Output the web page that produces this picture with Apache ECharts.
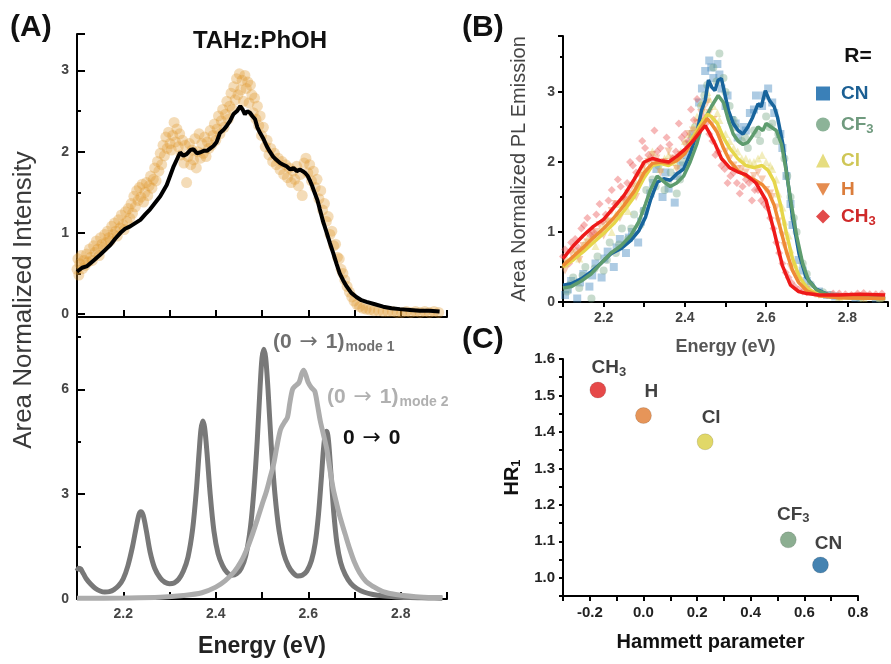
<!DOCTYPE html>
<html>
<head>
<meta charset="utf-8">
<script src="https://cdn.jsdelivr.net/npm/echarts@6/dist/echarts.min.js"></script>
<style>
html, body { margin: 0; padding: 0; background: #fff; }
#chart { width: 891px; height: 664px; }
</style>
</head>
<body>
<div id="chart"></div>
<script>
// ---- panel A (top): TAHz:PhOH measured emission + fit
var phohData = [
  [2.100,0.55],[2.102,0.68],[2.104,0.48],[2.106,0.62],[2.109,0.72],[2.112,0.56],[2.115,0.66],[2.118,0.60],[2.121,0.74],[2.124,0.64],
  [2.127,0.80],[2.130,0.70],[2.133,0.66],[2.136,0.84],[2.139,0.76],[2.142,0.90],[2.145,0.80],[2.148,0.72],[2.151,0.94],[2.154,0.86],
  [2.157,0.82],[2.160,0.98],[2.163,0.88],[2.166,1.02],[2.169,0.94],[2.172,0.90],[2.175,1.08],[2.178,0.98],[2.181,1.12],[2.184,1.02],
  [2.187,0.96],[2.190,1.16],[2.193,1.06],[2.196,1.22],[2.199,1.10],[2.202,1.04],[2.205,1.26],[2.208,1.14],[2.211,1.30],[2.214,1.18],
  [2.217,1.36],[2.220,1.24],[2.223,1.45],[2.226,1.32],[2.229,1.52],[2.232,1.40],[2.235,1.56],[2.238,1.44],[2.241,1.60],[2.244,1.38],
  [2.247,1.50],[2.250,1.62],[2.253,1.46],[2.256,1.58],[2.259,1.70],[2.262,1.55],[2.265,1.66],[2.268,1.80],[2.271,1.64],[2.274,1.88],
  [2.277,1.76],[2.280,1.98],[2.283,1.84],[2.286,2.08],[2.289,1.95],[2.292,2.18],[2.295,2.04],[2.298,2.24],[2.301,2.10],[2.304,2.02],
  [2.307,2.20],[2.310,2.36],[2.313,2.12],[2.316,2.28],[2.319,2.06],[2.322,2.22],[2.325,1.96],[2.328,2.14],[2.331,1.86],[2.334,2.08],
  [2.337,1.62],[2.340,1.94],[2.343,2.10],[2.346,1.84],[2.349,2.02],[2.352,1.90],[2.355,2.16],[2.358,1.80],[2.361,2.00],[2.364,2.22],
  [2.367,1.92],[2.370,2.10],[2.373,1.98],[2.376,2.18],[2.379,1.94],[2.382,2.12],[2.385,2.04],[2.388,2.26],[2.391,2.08],[2.394,2.20],
  [2.397,2.34],[2.400,2.14],[2.403,2.28],[2.406,2.44],[2.409,2.22],[2.412,2.38],[2.415,2.52],[2.418,2.30],[2.421,2.46],[2.424,2.62],
  [2.427,2.40],[2.430,2.56],[2.433,2.72],[2.436,2.52],[2.439,2.80],[2.442,2.64],[2.445,2.90],[2.448,2.70],[2.451,2.96],[2.454,2.76],
  [2.457,2.88],[2.460,2.62],[2.463,2.94],[2.466,2.78],[2.469,2.86],[2.472,2.60],[2.475,2.82],[2.478,2.70],[2.481,2.48],[2.484,2.66],
  [2.487,2.40],[2.490,2.56],[2.493,2.32],[2.496,2.44],[2.499,2.20],[2.503,2.30],[2.507,2.06],[2.511,2.14],[2.515,1.96],[2.519,2.04],
  [2.523,1.88],[2.527,1.98],[2.531,1.84],[2.535,1.92],[2.539,1.78],[2.543,1.88],[2.547,1.72],[2.551,1.84],[2.555,1.68],[2.559,1.80],
  [2.563,1.62],[2.567,1.76],[2.571,1.66],[2.575,1.82],[2.579,1.58],[2.583,1.72],[2.587,1.46],[2.591,1.86],[2.595,1.92],[2.599,1.74],
  [2.603,1.84],[2.607,1.64],[2.611,1.76],[2.615,1.56],[2.619,1.66],[2.623,1.42],[2.627,1.52],[2.631,1.28],[2.635,1.36],[2.639,1.14],
  [2.643,1.20],[2.647,0.98],[2.651,1.02],[2.655,0.84],[2.659,0.86],[2.663,0.70],[2.667,0.68],[2.671,0.55],[2.675,0.50],[2.679,0.42],
  [2.684,0.34],[2.689,0.27],[2.694,0.21],[2.699,0.16],[2.705,0.12],[2.711,0.09],[2.718,0.07],[2.725,0.06],[2.733,0.05],[2.742,0.04],
  [2.752,0.04],[2.762,0.03],[2.772,0.03],[2.782,0.03],[2.792,0.02],[2.802,0.02],[2.812,0.03],[2.822,0.02],[2.832,0.03],[2.842,0.02],
  [2.852,0.03],[2.862,0.02],[2.872,0.03],[2.882,0.02]
];
var phohFit = [
  [2.100,0.52],[2.111,0.57],[2.122,0.59],[2.136,0.66],[2.150,0.73],[2.161,0.79],[2.172,0.85],[2.183,0.93],[2.194,1.00],[2.204,1.05],
  [2.215,1.08],[2.226,1.12],[2.237,1.16],[2.248,1.23],[2.258,1.29],[2.269,1.37],[2.280,1.45],[2.294,1.59],[2.309,1.82],[2.323,1.99],
  [2.330,1.95],[2.337,1.97],[2.345,2.02],[2.352,2.03],[2.359,1.98],[2.366,1.99],[2.374,2.01],[2.381,2.01],[2.388,2.04],[2.395,2.07],
  [2.402,2.12],[2.409,2.23],[2.417,2.27],[2.424,2.32],[2.431,2.38],[2.438,2.46],[2.446,2.50],[2.453,2.56],[2.458,2.52],[2.463,2.46],
  [2.468,2.50],[2.474,2.48],[2.479,2.44],[2.485,2.40],[2.490,2.30],[2.496,2.23],[2.503,2.16],[2.510,2.07],[2.517,2.00],[2.524,1.94],
  [2.531,1.90],[2.539,1.86],[2.546,1.84],[2.553,1.82],[2.561,1.78],[2.568,1.80],[2.575,1.76],[2.582,1.78],[2.588,1.76],[2.593,1.74],
  [2.599,1.70],[2.604,1.64],[2.609,1.57],[2.614,1.49],[2.620,1.40],[2.625,1.29],[2.632,1.14],[2.640,1.00],[2.647,0.87],[2.654,0.75],
  [2.661,0.62],[2.668,0.50],[2.675,0.42],[2.683,0.34],[2.693,0.26],[2.704,0.21],[2.715,0.17],[2.726,0.15],[2.744,0.12],[2.762,0.09],
  [2.780,0.07],[2.798,0.06],[2.820,0.05],[2.841,0.04],[2.862,0.04],[2.884,0.03]
];

// ---- panel A (bottom): vibronic progressions
var progressionMode1 = [
  [2.100,0.80],[2.104,0.88],[2.108,0.86],[2.114,0.72],[2.120,0.58],[2.130,0.42],[2.140,0.30],[2.150,0.23],[2.160,0.20],[2.170,0.21],
  [2.180,0.27],[2.190,0.38],[2.200,0.58],[2.210,0.95],[2.220,1.50],[2.228,2.05],[2.234,2.42],[2.238,2.50],[2.243,2.40],[2.250,1.95],
  [2.258,1.35],[2.268,0.88],[2.280,0.60],[2.290,0.48],[2.300,0.44],[2.310,0.46],[2.320,0.57],[2.330,0.80],[2.340,1.20],[2.350,2.00],
  [2.358,3.10],[2.364,4.20],[2.368,4.85],[2.372,5.10],[2.376,4.90],[2.381,4.20],[2.388,3.00],[2.396,1.95],[2.405,1.30],[2.415,0.95],
  [2.425,0.75],[2.435,0.68],[2.445,0.72],[2.455,0.88],[2.465,1.25],[2.475,2.05],[2.483,3.20],[2.490,4.60],[2.496,6.10],[2.500,6.90],
  [2.504,7.15],[2.508,6.90],[2.513,6.00],[2.520,4.40],[2.528,3.00],[2.537,1.95],[2.547,1.30],[2.557,0.95],[2.567,0.75],[2.577,0.66],
  [2.587,0.68],[2.597,0.80],[2.607,1.10],[2.615,1.60],[2.622,2.40],[2.628,3.40],[2.633,4.30],[2.637,4.75],[2.640,4.80],[2.644,4.50],
  [2.649,3.60],[2.655,2.50],[2.662,1.60],[2.670,1.05],[2.680,0.70],[2.692,0.45],[2.705,0.30],[2.720,0.20],[2.740,0.13],[2.760,0.09],
  [2.790,0.06],[2.820,0.04],[2.860,0.03],[2.890,0.02]
];
var progressionMode2 = [
  [2.100,0.02],[2.200,0.03],[2.280,0.05],[2.330,0.10],[2.370,0.18],[2.400,0.34],[2.420,0.52],[2.440,0.78],[2.455,1.08],[2.468,1.45],
  [2.480,1.88],[2.490,2.28],[2.500,2.70],[2.510,3.10],[2.518,3.50],[2.525,3.85],[2.532,4.35],[2.540,4.85],[2.548,5.05],[2.555,5.20],
  [2.560,5.60],[2.566,6.00],[2.572,6.10],[2.580,6.20],[2.586,6.45],[2.590,6.55],[2.595,6.40],[2.600,6.20],[2.607,6.05],[2.614,5.95],
  [2.620,5.55],[2.626,5.10],[2.633,4.70],[2.640,4.30],[2.647,3.70],[2.654,3.15],[2.661,2.75],[2.668,2.38],[2.680,1.85],[2.690,1.42],
  [2.700,1.05],[2.711,0.75],[2.725,0.50],[2.740,0.36],[2.760,0.22],[2.780,0.15],[2.800,0.11],[2.840,0.06],[2.890,0.04]
];

// ---- panel B: PL emission for R = CN, CF3, Cl, H, CH3
var substituentsB = ['CN', 'CF3', 'Cl', 'H', 'CH3'];
var fitCN = [
  [2.100,0.24],[2.120,0.26],[2.145,0.33],[2.169,0.43],[2.193,0.55],[2.218,0.69],[2.242,0.76],[2.267,0.88],[2.287,1.02],[2.303,1.21],
  [2.315,1.45],[2.332,1.71],[2.348,1.76],[2.364,1.74],[2.380,1.83],[2.397,1.90],[2.413,2.12],[2.429,2.40],[2.441,2.74],[2.450,2.88],
  [2.458,3.17],[2.466,3.07],[2.474,3.02],[2.482,3.17],[2.490,3.19],[2.498,2.98],[2.507,2.74],[2.519,2.55],[2.531,2.45],[2.543,2.40],
  [2.555,2.50],[2.567,2.64],[2.580,2.83],[2.588,2.79],[2.598,3.02],[2.608,2.88],[2.620,2.79],[2.628,2.64],[2.641,2.26],[2.653,1.74],
  [2.665,1.21],[2.681,0.69],[2.698,0.36],[2.722,0.19],[2.754,0.10],[2.803,0.06],[2.893,0.05]
];
var fitCF3 = [
  [2.100,0.20],[2.120,0.22],[2.145,0.30],[2.169,0.40],[2.193,0.55],[2.218,0.70],[2.242,0.80],[2.267,0.95],[2.287,1.15],[2.303,1.40],
  [2.315,1.60],[2.332,1.80],[2.348,1.72],[2.364,1.65],[2.380,1.70],[2.397,1.80],[2.413,2.00],[2.429,2.25],[2.441,2.50],[2.450,2.62],
  [2.466,2.80],[2.482,2.95],[2.495,2.85],[2.507,2.60],[2.519,2.40],[2.531,2.30],[2.543,2.25],[2.555,2.28],[2.567,2.38],[2.580,2.50],
  [2.592,2.45],[2.600,2.55],[2.612,2.50],[2.625,2.45],[2.638,2.25],[2.650,1.85],[2.662,1.40],[2.675,0.95],[2.690,0.55],[2.705,0.30],
  [2.725,0.17],[2.755,0.10],[2.800,0.07],[2.893,0.05]
];
var fitCl = [
  [2.100,0.50],[2.125,0.60],[2.150,0.72],[2.175,0.85],[2.200,0.98],[2.225,1.12],[2.250,1.30],[2.275,1.50],[2.300,1.78],[2.320,1.95],
  [2.340,1.98],[2.360,1.95],[2.380,2.02],[2.400,2.15],[2.420,2.35],[2.440,2.55],[2.455,2.68],[2.465,2.65],[2.480,2.55],[2.495,2.35],
  [2.510,2.20],[2.530,2.05],[2.550,1.95],[2.570,1.92],[2.590,1.95],[2.605,1.88],[2.620,1.72],[2.635,1.40],[2.650,0.98],[2.665,0.62],
  [2.680,0.38],[2.700,0.20],[2.730,0.10],[2.780,0.06],[2.893,0.05]
];
var fitH = [
  [2.100,0.52],[2.125,0.65],[2.150,0.78],[2.175,0.92],[2.200,1.05],[2.225,1.20],[2.250,1.38],[2.275,1.58],[2.300,1.85],[2.320,1.98],
  [2.340,2.00],[2.360,1.98],[2.380,2.02],[2.400,2.12],[2.420,2.32],[2.440,2.50],[2.455,2.62],[2.465,2.55],[2.480,2.42],[2.495,2.20],
  [2.510,2.02],[2.530,1.88],[2.550,1.80],[2.570,1.75],[2.590,1.68],[2.605,1.58],[2.620,1.38],[2.635,1.05],[2.650,0.72],[2.665,0.45],
  [2.680,0.28],[2.700,0.16],[2.730,0.09],[2.780,0.06],[2.893,0.05]
];
var fitCH3 = [
  [2.100,0.62],[2.125,0.80],[2.150,0.95],[2.175,1.08],[2.200,1.18],[2.225,1.35],[2.250,1.52],[2.275,1.75],[2.300,2.00],[2.320,2.05],
  [2.340,2.02],[2.360,2.00],[2.380,2.08],[2.400,2.18],[2.420,2.30],[2.440,2.45],[2.450,2.52],[2.460,2.42],[2.475,2.25],[2.490,2.05],
  [2.510,1.92],[2.530,1.86],[2.550,1.82],[2.575,1.70],[2.600,1.45],[2.620,1.00],[2.640,0.52],[2.660,0.24],[2.680,0.15],[2.700,0.12],
  [2.730,0.10],[2.780,0.10],[2.830,0.11],[2.893,0.10]
];
var dataCN = [
  [2.105,0.10],[2.120,0.30],[2.135,0.05],[2.150,0.40],[2.165,0.22],[2.180,0.55],[2.195,0.35],[2.210,0.72],[2.225,0.50],[2.240,0.90],
  [2.255,0.70],[2.270,1.00],[2.285,0.85],[2.300,1.30],[2.315,1.55],[2.330,1.90],[2.345,1.50],[2.360,1.62],[2.375,1.42],[2.390,1.95],
  [2.405,2.10],[2.420,2.40],[2.435,2.85],[2.450,3.30],[2.460,3.45],[2.470,3.20],[2.480,3.40],[2.490,3.05],[2.500,2.80],[2.515,2.60],
  [2.530,2.35],[2.545,2.50],[2.560,2.70],[2.575,2.95],[2.590,2.80],[2.605,3.05],[2.620,2.70],[2.635,2.40],[2.650,1.80],[2.665,1.10],
  [2.680,0.60],[2.700,0.30],[2.730,0.15],[2.770,0.08],[2.820,0.06],[2.870,0.05],
  [2.112,0.18],[2.142,0.28],[2.172,0.38],[2.202,0.62],[2.232,0.78],[2.262,0.92],[2.292,1.15],[2.322,1.70],[2.352,1.85],[2.382,1.80],
  [2.412,2.25],[2.442,3.05],[2.465,3.35],[2.485,3.25],[2.505,2.95],[2.525,2.55],[2.550,2.45],[2.570,2.75],[2.595,2.95],[2.615,2.85],
  [2.640,2.20],[2.660,1.40],[2.690,0.45],[2.750,0.10]
];
var dataCF3 = [
  [2.110,0.15],[2.125,0.35],[2.140,0.20],[2.155,0.50],[2.170,0.05],[2.185,0.65],[2.200,0.45],[2.215,0.85],[2.230,0.70],[2.245,1.05],
  [2.260,0.90],[2.275,1.25],[2.290,1.10],[2.305,1.60],[2.320,1.75],[2.335,1.95],[2.350,1.60],[2.365,1.85],[2.380,1.55],[2.395,2.00],
  [2.410,2.20],[2.425,2.50],[2.440,2.80],[2.455,3.10],[2.470,3.35],[2.485,3.55],[2.495,3.20],[2.510,2.80],[2.525,2.50],[2.540,2.30],
  [2.555,2.20],[2.570,2.45],[2.585,2.30],[2.600,2.65],[2.615,2.55],[2.630,2.40],[2.645,2.05],[2.660,1.50],[2.675,1.00],[2.690,0.55],
  [2.710,0.25],[2.740,0.14],[2.780,0.08],[2.830,0.06],[2.880,0.05],
  [2.118,0.25],[2.148,0.38],[2.178,0.48],[2.208,0.60],[2.238,0.82],[2.268,1.05],[2.298,1.30],[2.328,1.65],[2.358,1.70],[2.388,1.75],
  [2.418,2.35],[2.448,2.95],[2.478,3.15],[2.500,3.00],[2.520,2.60],[2.548,2.35],[2.578,2.40],[2.608,2.50],[2.625,2.30],[2.652,1.80],
  [2.668,1.20],[2.700,0.40],[2.760,0.10]
];
var dataCl = [
  [2.105,0.55],[2.120,0.75],[2.140,0.62],[2.160,0.90],[2.180,0.80],[2.200,1.10],[2.220,1.00],[2.240,1.40],[2.260,1.30],[2.280,1.70],
  [2.300,1.90],[2.320,2.15],[2.340,1.90],[2.360,2.10],[2.380,1.95],[2.400,2.30],[2.420,2.50],[2.440,2.85],[2.455,3.00],[2.470,2.80],
  [2.485,2.60],[2.500,2.40],[2.520,2.20],[2.540,2.05],[2.560,2.00],[2.580,2.05],[2.600,2.00],[2.615,1.90],[2.630,1.55],[2.645,1.15],
  [2.660,0.75],[2.680,0.40],[2.700,0.22],[2.730,0.12],[2.780,0.07],[2.840,0.06],[2.880,0.06],
  [2.110,0.60],[2.130,0.68],[2.150,0.82],[2.170,0.92],[2.190,1.00],[2.210,1.18],[2.230,1.25],[2.250,1.45],[2.270,1.55],[2.290,1.85],
  [2.310,2.05],[2.330,2.00],[2.350,2.05],[2.370,2.00],[2.390,2.15],[2.410,2.40],[2.430,2.65],[2.445,2.75],[2.460,2.90],[2.480,2.70],
  [2.510,2.30],[2.530,2.15],[2.550,2.05],[2.570,2.00],[2.590,2.10],[2.610,1.95],[2.625,1.75],[2.640,1.35],[2.655,0.95],[2.670,0.55]
];
var dataH = [
  [2.105,0.45],[2.120,0.70],[2.140,0.60],[2.160,0.85],[2.180,1.00],[2.200,0.95],[2.220,1.30],[2.240,1.20],[2.260,1.55],[2.280,1.50],
  [2.300,1.95],[2.320,2.10],[2.340,1.85],[2.360,2.15],[2.380,1.90],[2.400,2.25],[2.420,2.45],[2.440,2.70],[2.455,2.85],[2.470,2.60],
  [2.485,2.35],[2.500,2.15],[2.520,1.95],[2.540,1.90],[2.560,1.75],[2.580,1.85],[2.600,1.60],[2.615,1.50],[2.630,1.15],[2.645,0.80],
  [2.660,0.50],[2.680,0.30],[2.700,0.18],[2.730,0.10],[2.780,0.07],[2.840,0.06],[2.880,0.06],
  [2.110,0.55],[2.130,0.72],[2.150,0.80],[2.170,0.95],[2.190,1.10],[2.210,1.15],[2.230,1.40],[2.250,1.45],[2.270,1.65],[2.290,1.80],
  [2.310,2.00],[2.330,2.05],[2.350,2.00],[2.370,2.05],[2.390,2.10],[2.410,2.40],[2.430,2.55],[2.445,2.75],[2.460,2.70],[2.480,2.45],
  [2.510,2.05],[2.530,1.90],[2.550,1.85],[2.570,1.80],[2.590,1.75],[2.610,1.55],[2.625,1.35],[2.640,0.95],[2.655,0.65],[2.670,0.40]
];
var dataCH3 = [
  [2.105,0.75],[2.115,0.55],[2.130,0.90],[2.145,1.05],[2.160,1.20],[2.175,1.00],[2.190,1.40],[2.205,1.25],[2.220,1.60],[2.235,1.75],
  [2.250,1.50],[2.265,2.00],[2.280,1.85],[2.295,2.30],[2.310,2.10],[2.325,2.45],[2.340,2.20],[2.355,2.35],[2.370,2.05],[2.385,2.55],
  [2.400,2.40],[2.415,2.75],[2.430,2.90],[2.445,2.65],[2.460,2.40],[2.475,2.10],[2.490,1.95],[2.505,1.70],[2.520,1.85],[2.535,1.55],
  [2.550,1.75],[2.565,1.45],[2.580,1.60],[2.595,1.40],[2.610,1.20],[2.625,0.85],[2.640,0.55],[2.655,0.35],[2.670,0.22],[2.690,0.15],
  [2.720,0.12],[2.750,0.10],[2.780,0.12],[2.810,0.10],[2.840,0.13],[2.870,0.11],
  [2.100,0.65],[2.120,0.85],[2.138,0.78],[2.152,1.10],[2.168,0.95],[2.182,1.25],[2.198,1.15],[2.212,1.45],[2.228,1.40],[2.242,1.65],
  [2.258,1.70],[2.272,1.95],[2.288,2.05],[2.302,2.20],[2.318,2.05],[2.332,2.15],[2.348,2.00],[2.362,2.25],[2.378,2.15],[2.392,2.35],
  [2.408,2.30],[2.422,2.60],[2.438,2.60],[2.452,2.55],[2.468,2.30],[2.482,2.15],[2.498,1.90],[2.512,1.80],[2.528,1.70],[2.542,1.65],
  [2.558,1.70],[2.572,1.60],[2.588,1.45],[2.602,1.35],[2.618,1.05],[2.632,0.70],[2.648,0.42],[2.662,0.28],[2.680,0.18],[2.700,0.14],
  [2.735,0.11],[2.765,0.12],[2.795,0.11],[2.825,0.12],[2.855,0.11],[2.885,0.12]
];
var measuredB = [dataCN, dataCF3, dataCl, dataH, dataCH3];
var fitsB = [fitCN, fitCF3, fitCl, fitH, fitCH3];

// ---- panel C: Huang-Rhys factor vs Hammett parameter
var substituentsC = ['CH3', 'H', 'Cl', 'CF3', 'CN'];
var hammett = [-0.17, 0.00, 0.23, 0.54, 0.66];
var hr1 = [1.515, 1.445, 1.373, 1.104, 1.035];

// ---- styling
var FONT = 'Liberation Sans, Arial, sans-serif';
var lineColorsB = ['#17649c', '#5e9c6e', '#e6d64a', '#ef8a35', '#ee1a1a'];
var markColorsB = ['rgba(50,125,185,0.5)', 'rgba(115,165,130,0.5)', 'rgba(225,215,105,0.55)', 'rgba(235,140,85,0.55)', 'rgba(232,75,75,0.5)'];
var legendIconColors = ['#3a80b8', '#8cb398', '#e6dd80', '#e58c50', '#e24a4a'];
var legendTextColors = ['#1b5f93', '#6f9a7e', '#cfc656', '#db7d3b', '#cf2a2a'];
var symbolsB = ['rect', 'circle', 'triangle', 'path://M0,0L10,0L5,9Z', 'diamond'];
var legendTops = [79, 110, 146, 175, 202];
var colorsC = ['#e01c1c', '#e07a30', '#d9ce42', '#6f9a76', '#17649e'];
var labelOffsetsC = [[11, 0], [8, -3], [6, -3], [5, -3], [8, 0]];

function subFmt(name) {
  var m = name.match(/^(.*?)(\d)$/);
  return m ? '{m|' + m[1] + '}{s|' + m[2] + '}' : '{m|' + name + '}';
}
function evenTenths(v) {
  var t = Math.round(v * 10);
  return t % 2 === 0 ? (t / 10).toFixed(1) : '';
}
function intOnly(v) {
  return Math.abs(v - Math.round(v)) < 1e-6 ? String(Math.round(v)) : '';
}
function multipleOf3(v) {
  var r = Math.round(v);
  return Math.abs(v - r) < 1e-6 && r % 3 === 0 ? String(r) : '';
}

var axisLine = { onZero: false, lineStyle: { color: '#000', width: 2 } };
var tickLabel = { fontFamily: FONT, fontSize: 14, fontWeight: 'bold', color: '#444' };
var arrowFont = 'DejaVu Sans';

var chart = echarts.init(document.getElementById('chart'));

var series = [
  { type: 'scatter', xAxisIndex: 0, yAxisIndex: 0, data: phohData, symbolSize: 11,
    itemStyle: { color: 'rgba(222,150,45,0.42)' }, z: 2 },
  { type: 'line', xAxisIndex: 0, yAxisIndex: 0, data: phohFit, showSymbol: false,
    lineStyle: { color: '#000', width: 4 }, z: 3 },
  { type: 'line', xAxisIndex: 1, yAxisIndex: 1, data: progressionMode1, showSymbol: false, smooth: 0.3,
    lineStyle: { color: '#787878', width: 5 }, z: 2 },
  { type: 'line', xAxisIndex: 1, yAxisIndex: 1, data: progressionMode2, showSymbol: false, smooth: 0.3,
    lineStyle: { color: '#acacac', width: 5 }, z: 3 }
];
substituentsB.forEach(function (name, i) {
  series.push({ type: 'scatter', name: name, xAxisIndex: 2, yAxisIndex: 2, data: measuredB[i],
    symbol: symbolsB[i], symbolSize: 8, itemStyle: { color: markColorsB[i] }, z: 2 });
});
substituentsB.forEach(function (name, i) {
  series.push({ type: 'line', name: name + ' fit', xAxisIndex: 2, yAxisIndex: 2, data: fitsB[i],
    showSymbol: false, lineStyle: { color: lineColorsB[i], width: 3.5 }, z: 3 + i });
});
series.push({
  type: 'scatter', xAxisIndex: 3, yAxisIndex: 3, symbolSize: 16,
  data: substituentsC.map(function (name, i) {
    return { name: name, value: [hammett[i], hr1[i]],
      itemStyle: { color: colorsC[i], borderColor: 'rgba(0,0,0,0.15)', borderWidth: 1 },
      label: { offset: labelOffsetsC[i] } };
  }),
  label: {
    show: true, position: 'top', distance: 3,
    formatter: function (p) { return subFmt(p.name); },
    rich: {
      m: { fontFamily: FONT, fontSize: 19, fontWeight: 'bold', color: '#111' },
      s: { fontFamily: FONT, fontSize: 13, fontWeight: 'bold', color: '#111', padding: [9, 0, 0, 0] }
    }
  }
});

var legends = substituentsB.map(function (name, i) {
  return {
    data: [{ name: name, icon: symbolsB[i], itemStyle: { color: legendIconColors[i], opacity: 1 } }],
    left: 811, top: legendTops[i], itemWidth: 14, itemHeight: 14, selectedMode: false,
    formatter: subFmt,
    textStyle: {
      color: legendTextColors[i],
      rich: {
        m: { fontFamily: FONT, fontSize: 19, fontWeight: 'bold', color: legendTextColors[i], padding: [0, 0, 0, 6] },
        s: { fontFamily: FONT, fontSize: 13, fontWeight: 'bold', color: legendTextColors[i], padding: [9, 0, 0, 0] }
      }
    }
  };
});

function transitionText(x, y, text, color) {
  return { type: 'text', x: x, y: y, style: {
    text: text, textVerticalAlign: 'middle',
    rich: {
      a: { fontFamily: FONT, fontSize: 21, fontWeight: 'bold', fill: color },
      r: { fontFamily: arrowFont, fontSize: 22, fill: color, padding: [0, 2, 0, 2] },
      s: { fontFamily: FONT, fontSize: 14, fontWeight: 'bold', fill: color, padding: [10, 0, 0, 1] }
    } } };
}

var option = {
  animation: false,
  backgroundColor: '#fff',
  grid: [
    { left: 77, top: 34, width: 370, height: 280 },
    { left: 77, top: 314, width: 370, height: 285 },
    { left: 563, top: 36, width: 330, height: 266 },
    { left: 563, top: 359, width: 295, height: 237 }
  ],
  legend: legends,
  xAxis: [
    { gridIndex: 0, type: 'value', min: 2.1, max: 2.9, interval: 0.1, offset: 3,
      axisLine: axisLine, axisTick: { inside: true, length: 7, lineStyle: { color: '#000', width: 2 } },
      axisLabel: { show: false }, splitLine: { show: false } },
    { gridIndex: 1, type: 'value', min: 2.1, max: 2.9, interval: 0.1,
      axisLine: axisLine, axisTick: { inside: true, length: 7, lineStyle: { color: '#000', width: 2 } },
      axisLabel: Object.assign({ formatter: evenTenths, margin: 8 }, tickLabel), splitLine: { show: false },
      name: 'Energy (eV)', nameLocation: 'middle', nameGap: 36,
      nameTextStyle: { fontFamily: FONT, fontSize: 23, fontWeight: 'bold', color: '#222' } },
    { gridIndex: 2, type: 'value', min: 2.1, max: 2.9, interval: 0.1,
      axisLine: axisLine, axisTick: { length: 5, lineStyle: { color: '#000', width: 2 } },
      axisLabel: Object.assign({ formatter: evenTenths, margin: 9 }, tickLabel), splitLine: { show: false },
      name: 'Energy (eV)', nameLocation: 'middle', nameGap: 36,
      nameTextStyle: { fontFamily: FONT, fontSize: 18, fontWeight: 'bold', color: '#555' } },
    { gridIndex: 3, type: 'value', min: -0.3, max: 0.8, interval: 0.1,
      axisLine: axisLine, axisTick: { length: 5, lineStyle: { color: '#000', width: 2 } },
      axisLabel: { formatter: evenTenths, margin: 9, fontFamily: FONT, fontSize: 15, fontWeight: 'bold', color: '#222' },
      splitLine: { show: false },
      name: 'Hammett parameter', nameLocation: 'middle', nameGap: 36,
      nameTextStyle: { fontFamily: FONT, fontSize: 20, fontWeight: 'bold', color: '#111' } }
  ],
  yAxis: [
    { gridIndex: 0, type: 'value', min: 0, max: 3.45, interval: 1,
      axisLine: axisLine, axisTick: { inside: true, length: 8, lineStyle: { color: '#000', width: 2 } },
      minorTick: { show: true, splitNumber: 2, length: 4, lineStyle: { color: '#000', width: 2 } },
      axisLabel: Object.assign({ formatter: intOnly, margin: 8 }, tickLabel), splitLine: { show: false } },
    { gridIndex: 1, type: 'value', min: 0, max: 8.16, interval: 3,
      axisLine: axisLine, axisTick: { inside: true, length: 8, lineStyle: { color: '#000', width: 2 } },
      minorTick: { show: true, splitNumber: 2, length: 4, lineStyle: { color: '#000', width: 2 } },
      axisLabel: Object.assign({ formatter: multipleOf3, margin: 8 }, tickLabel), splitLine: { show: false } },
    { gridIndex: 2, type: 'value', min: 0, max: 3.8, interval: 1,
      axisLine: axisLine, axisTick: { length: 5, lineStyle: { color: '#000', width: 2 } },
      minorTick: { show: true, splitNumber: 2, length: 3, lineStyle: { color: '#000', width: 2 } },
      axisLabel: Object.assign({ formatter: intOnly, margin: 8 }, tickLabel), splitLine: { show: false },
      name: 'Area Normalized PL Emission', nameLocation: 'middle', nameGap: 34,
      nameTextStyle: { fontFamily: FONT, fontSize: 20, color: '#444' } },
    { gridIndex: 3, type: 'value', min: 0.95, max: 1.6, interval: 0.05,
      axisLine: axisLine, axisTick: { length: 4, lineStyle: { color: '#000', width: 2 } },
      axisLabel: { formatter: function (v) { return Math.round(v * 100) % 10 === 0 ? v.toFixed(1) : ''; },
        margin: 8, fontFamily: FONT, fontSize: 15, fontWeight: 'bold', color: '#222' },
      splitLine: { show: false },
      name: '{m|HR}{s|1}', nameLocation: 'middle', nameGap: 40,
      nameTextStyle: { rich: {
        m: { fontFamily: FONT, fontSize: 20, fontWeight: 'bold', color: '#111' },
        s: { fontFamily: FONT, fontSize: 13, fontWeight: 'bold', color: '#111', padding: [9, 0, 0, 0] } } } }
  ],
  graphic: [
    { type: 'text', x: 10, y: 28, style: { text: '(A)', font: 'bold 30px ' + FONT, fill: '#111', textVerticalAlign: 'middle' } },
    { type: 'text', x: 462, y: 28, style: { text: '(B)', font: 'bold 30px ' + FONT, fill: '#111', textVerticalAlign: 'middle' } },
    { type: 'text', x: 462, y: 340, style: { text: '(C)', font: 'bold 30px ' + FONT, fill: '#111', textVerticalAlign: 'middle' } },
    { type: 'text', x: 260, y: 41, style: { text: 'TAHz:PhOH', font: 'bold 24px ' + FONT, fill: '#111', textAlign: 'center', textVerticalAlign: 'middle' } },
    { type: 'text', x: 858, y: 56, style: { text: 'R=', font: 'bold 21px ' + FONT, fill: '#111', textAlign: 'center', textVerticalAlign: 'middle' } },
    { type: 'text', x: 24, y: 300, rotation: Math.PI / 2,
      style: { text: 'Area Normalized Intensity', font: '26px ' + FONT, fill: '#3a3a3a', textAlign: 'center', textVerticalAlign: 'middle' } },
    transitionText(273, 342, '{a|(0 }{r|→}{a| 1)}{s|mode 1}', '#707070'),
    transitionText(327, 397, '{a|(0 }{r|→}{a| 1)}{s|mode 2}', '#b0b0b0'),
    transitionText(343, 438, '{a|0 }{r|→}{a| 0}', '#111')
  ],
  series: series
};

chart.setOption(option);
</script>
</body>
</html>
